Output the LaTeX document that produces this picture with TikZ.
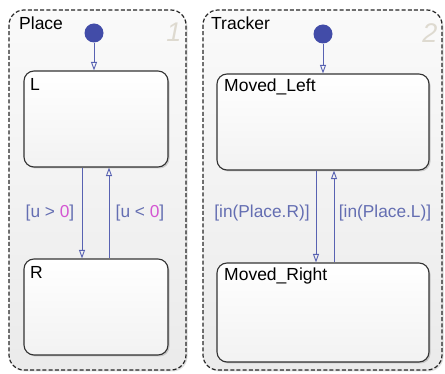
\documentclass[tikz,border=0pt]{standalone}
\usepackage{fontspec}
\setmainfont{Liberation Sans}
\usetikzlibrary{arrows.meta,shadows,calc}
\definecolor{trblue}{RGB}{88,98,178}
\definecolor{lblblue}{RGB}{100,110,178}
\definecolor{dotblue}{RGB}{66,76,168}
\definecolor{magen}{RGB}{212,86,210}
\definecolor{numgray}{RGB}{222,218,208}
\tikzset{
  x=1pt, y=-1pt,
  chart/.style={draw=black!85, dashed, dash pattern=on 4pt off 2.2pt, line width=1.2pt,
    rounded corners=15pt, top color=gray!4, bottom color=gray!16,
    drop shadow={shadow xshift=1.5pt, shadow yshift=-1.5pt, opacity=0.25}},
  statebox/.style={draw=black!80, line width=1.1pt, rounded corners=10pt,
    top color=white, bottom color=gray!10,
    drop shadow={shadow xshift=1.5pt, shadow yshift=-1.5pt, opacity=0.35}},
  txt/.style={font=\fontsize{17.5}{19}\selectfont, inner sep=0pt, anchor=north west},
  trans/.style={draw=trblue, line width=0.9pt, -{Triangle[open,length=8.5pt,width=6pt]}},
  initdot/.style={circle, fill=dotblue, minimum size=19pt, inner sep=0pt},
  tlabel/.style={font=\fontsize{17.3}{19}\selectfont, text=lblblue, inner sep=0pt},
  num/.style={font=\fontsize{27}{29}\selectfont\itshape, text=numgray, inner sep=0pt}
}
\begin{document}
\begin{tikzpicture}
\useasboundingbox (0,0) rectangle (445,374);
% outer charts
\path[chart] (9,10) rectangle (186,370);
\path[chart] (203,10) rectangle (442,370);
\node[num] (n1) at (174,32) {1};
\node[num] (n2) at (430,33) {2};
\node[txt] (tplace) at (19,17) {Place};
\node[txt] (ttracker) at (211,17) {Tracker};
% states
\node[statebox, minimum width=144pt, minimum height=96pt, inner sep=0pt] (L) at (96,119) {};
\node[statebox, minimum width=144pt, minimum height=96pt, inner sep=0pt] (R) at (96,307) {};
\node[statebox, minimum width=212pt, minimum height=96pt, inner sep=0pt] (ML) at (323,122) {};
\node[statebox, minimum width=212pt, minimum height=99pt, inner sep=0pt] (MR) at (323,312.5) {};
\node[txt] (tL) at (30,78) {L};
\node[txt] (tR) at (30,266) {R};
\node[txt] (tML) at (224,79) {Moved\_Left};
\node[txt] (tMR) at (224,268) {Moved\_Right};
% initial dots
\node[initdot] (d1) at (94,33) {};
\node[initdot] (d2) at (323,34) {};
\draw[trans] (d1.south) -- (d1.south |- L.north);
\draw[trans] (d2.south) -- (d2.south |- ML.north);
% transitions
\draw[trans] ([xshift=-14pt]L.south) -- ([xshift=-14pt]R.north);
\draw[trans] ([xshift=13pt]R.north) -- ([xshift=13pt]L.south);
\draw[trans] ([xshift=-7pt]ML.south) -- ([xshift=-7pt]MR.north);
\draw[trans] ([xshift=11pt]MR.north) -- ([xshift=11pt]ML.south);
% labels
\node[tlabel] (l1) at (50,213) {[u > \textcolor{magen}{0}]};
\node[tlabel] (l2) at (140,213) {[u < \textcolor{magen}{0}]};
\node[tlabel] (l3) at (262,213) {[in(Place.R)]};
\node[tlabel] (l4) at (385,213) {[in(Place.L)]};
\end{tikzpicture}
\end{document}
